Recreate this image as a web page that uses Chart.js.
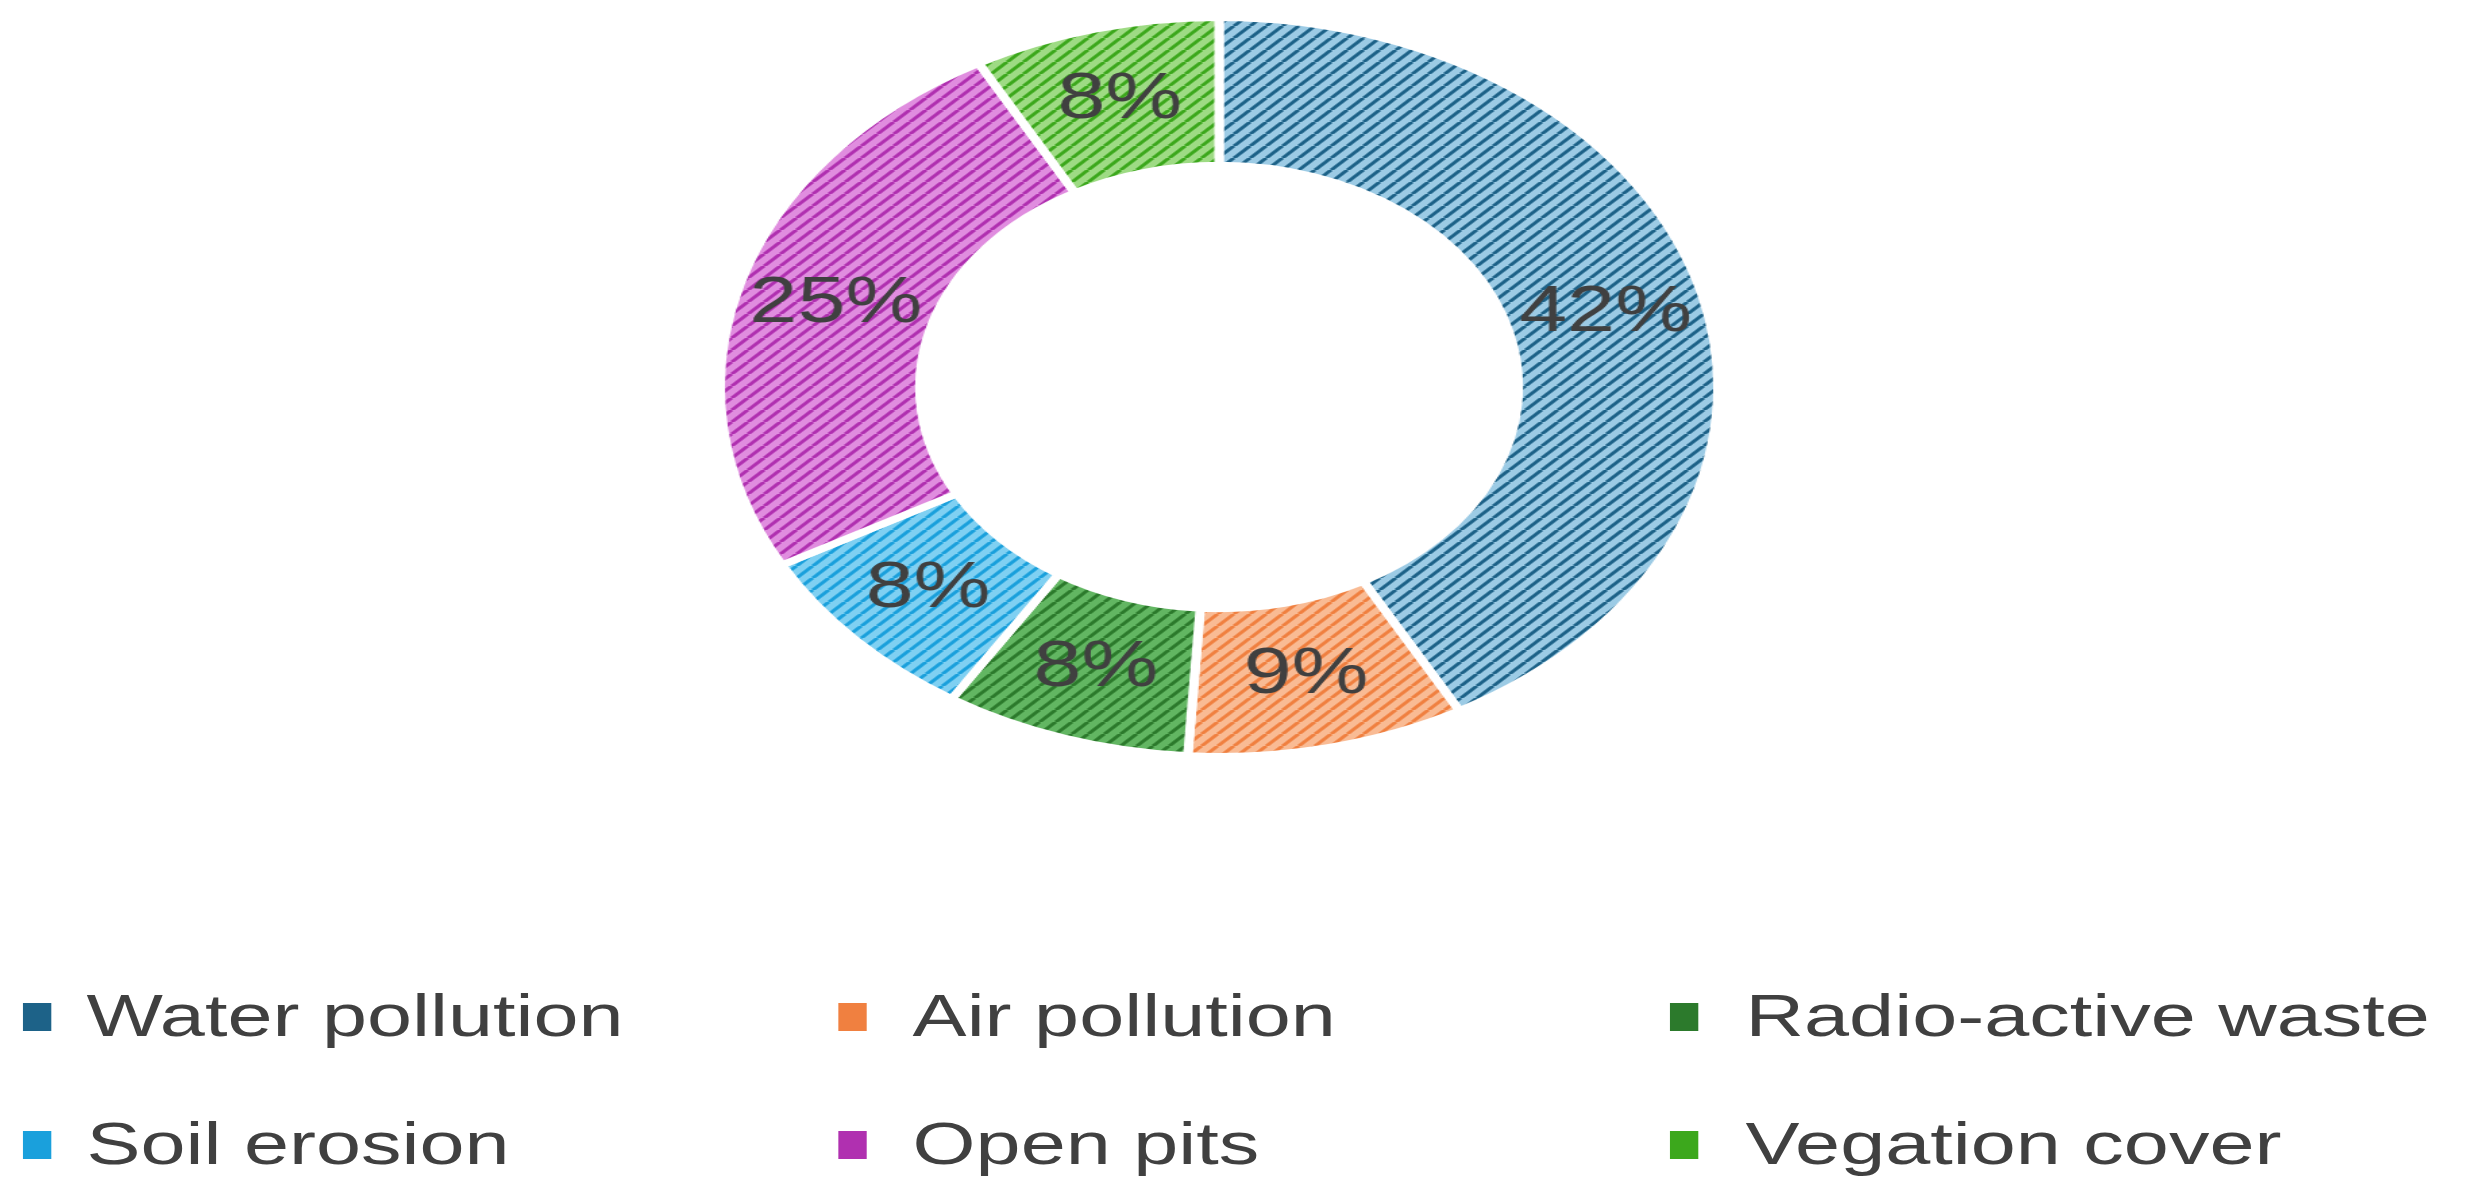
<!DOCTYPE html>
<html><head><meta charset="utf-8">
<script src="https://cdn.jsdelivr.net/npm/chart.js@4"></script>
<style>
html,body{margin:0;padding:0;background:#fff;overflow:hidden;width:2467px;height:1204px}
#wrap{position:absolute;left:0;top:0;width:1827px;height:1204px;transform:scaleX(1.35);transform-origin:0 0;font-family:"Liberation Sans",Arial,sans-serif}
#cbox{position:absolute;left:530px;top:14px;width:746px;height:746px}
.lg{position:absolute;font-size:60px;color:#404040;line-height:1;white-space:nowrap}
.mk{position:absolute;width:21px;height:28px}
</style></head><body>
<div id="wrap"><div id="cbox"><canvas id="c" width="746" height="746"></canvas></div><div id="legend"></div></div>
<script>
const categories=["Water pollution","Air pollution","Radio-active waste","Soil erosion","Open pits","Vegation cover"];
const values=[42,9,8,8,25,8];
const labels=["42%","9%","8%","8%","25%","8%"];
const baseColors=["#9ccbe5","#f9bb94","#62b662","#7fd0f2","#e08ddf","#9edb84"];
const lineColors=["#1d6288","#f08040","#2c7a2c","#1aa0dc","#b030b0","#3ca81c"];
function pattern(bg,fg){const p=document.createElement('canvas');p.width=p.height=12;const x=p.getContext('2d');
x.fillStyle=bg;x.fillRect(0,0,12,12);x.strokeStyle=fg;x.lineWidth=3;
for(let o=-12;o<=24;o+=12){x.beginPath();x.moveTo(o,12);x.lineTo(o+12,0);x.stroke();}
return x.createPattern(p,'repeat');}
const ctx=document.getElementById('c').getContext('2d');
const fills=baseColors.map((b,i)=>pattern(b,lineColors[i]));
const lbl={id:'lbl',afterDatasetsDraw(ch){const c=ch.ctx;const m=ch.getDatasetMeta(0);
c.save();c.font='64px "Liberation Sans",Arial,sans-serif';c.fillStyle='#404040';c.textAlign='center';c.textBaseline='middle';
m.data.forEach((a,i)=>{const p=a.tooltipPosition();c.fillText(labels[i],p.x,p.y);});c.restore();}};
new Chart(ctx,{type:'doughnut',data:{labels:categories,datasets:[{data:values,backgroundColor:fills,borderColor:'#fff',borderWidth:7}]},
options:{responsive:false,animation:false,cutout:'60%',layout:{padding:0},plugins:{legend:{display:false},tooltip:{enabled:false}}},plugins:[lbl]});
const pos=[[17,64,1017],[621,676,1017],[1237,1293,1017],[17,64,1145],[621,676,1145],[1237,1293,1145]];
const lg=document.getElementById('legend');
categories.forEach((n,i)=>{const [mx,tx,y]=pos[i];
const m=document.createElement('div');m.className='mk';m.style.left=mx+'px';m.style.top=(y-14)+'px';
m.style.background=lineColors[i];lg.appendChild(m);
const t=document.createElement('div');t.className='lg';t.style.left=tx+'px';t.style.top=(y-31)+'px';t.textContent=n;lg.appendChild(t);});
</script></body></html>
